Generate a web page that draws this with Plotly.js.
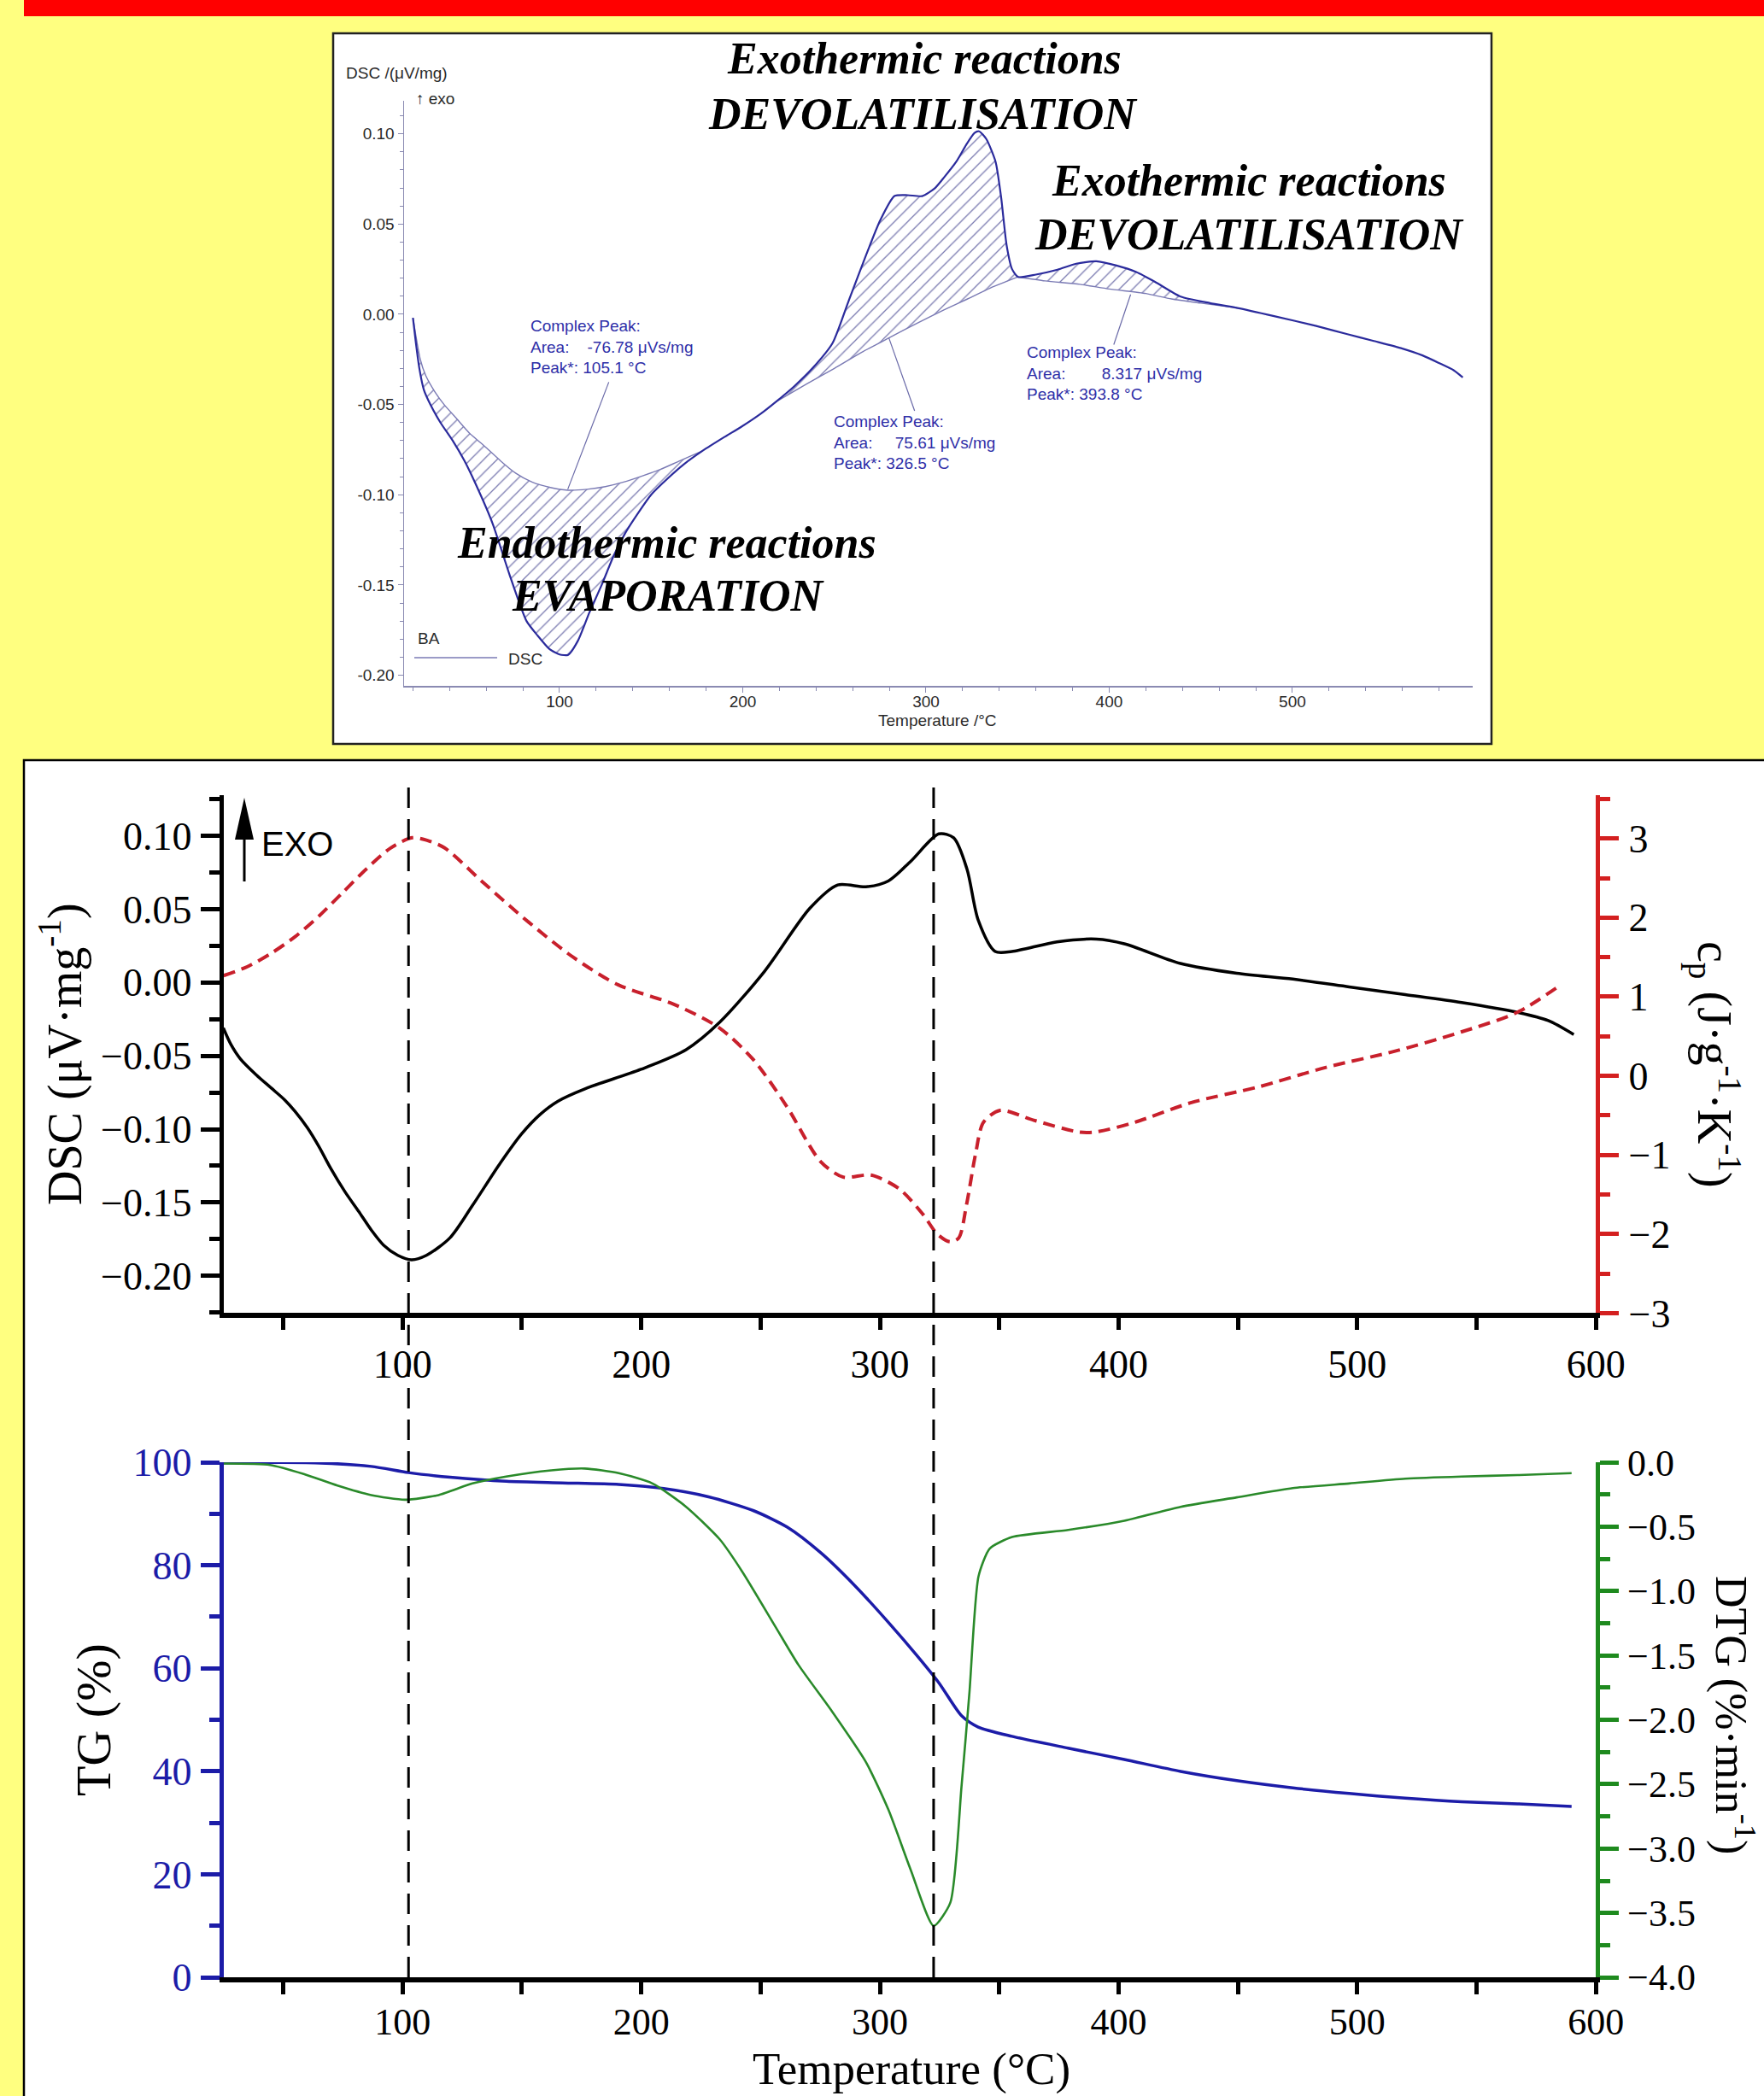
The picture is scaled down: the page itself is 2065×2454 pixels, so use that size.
<!DOCTYPE html>
<html><head><meta charset="utf-8">
<script src="https://cdn.plot.ly/plotly-3.0.1.min.js"></script>
<style>html,body{margin:0;padding:0;background:#FFFF80;}</style>
</head><body><div id="chart" style="width:2065px;height:2454px;"></div>
<script>
// ---------- Inset (NETZSCH DSC) data ----------
const insetDscT = [20,21.5,23.5,26,29.5,35,41.7,48,54.2,63.5,72.8,82,88,94.5,100,104.7,110,116.4,123,129.7,136,143,150,159,168,178,190,199,210,218,228,238,249,258,267.4,275,282.8,290,298,305,310,316.5,322,326.5,329,333,338,341,344,347,350.3,360,371.8,382,393,404,414.8,425,439,455,470,490,513,530,544,560,571,580,588,593];
const insetDscV = [-0.002,-0.015,-0.030,-0.042,-0.050,-0.060,-0.070,-0.081,-0.094,-0.116,-0.1445,-0.170,-0.178,-0.1855,-0.1885,-0.1887,-0.181,-0.165,-0.150,-0.1335,-0.121,-0.110,-0.100,-0.091,-0.083,-0.0757,-0.068,-0.0625,-0.055,-0.0486,-0.040,-0.030,-0.016,0.008,0.033,0.052,0.0655,0.066,0.0655,0.070,0.076,0.0845,0.094,0.1005,0.1014,0.097,0.0845,0.065,0.0384,0.025,0.0207,0.022,0.0247,0.028,0.0294,0.027,0.0234,0.018,0.0098,0.0062,0.0035,-0.001,-0.0065,-0.011,-0.0147,-0.019,-0.0228,-0.027,-0.031,-0.035];
const base1T = [20,24,27,32,37,44,51,59,68,76,85,95,104.7,115,125,135,145.7,155,165,178];
const base1V = [-0.002,-0.025,-0.034,-0.043,-0.050,-0.058,-0.066,-0.073,-0.0814,-0.088,-0.093,-0.096,-0.0975,-0.097,-0.0955,-0.093,-0.0894,-0.086,-0.0815,-0.0757];
const base2T = [218,235,250,265,280,295,310,322.7,335,350.3];
const base2V = [-0.0486,-0.0385,-0.030,-0.021,-0.013,-0.005,0.0025,0.0085,0.0145,0.0207];
const base3T = [350.3,365,384,400,420,434,450,470];
const base3V = [0.0207,0.0185,0.0166,0.014,0.0115,0.0085,0.0062,0.0035];
const insetYTicks = [-0.20,-0.15,-0.10,-0.05,0.00,0.05,0.10];
const insetYTickText = ['-0.20','-0.15','-0.10','-0.05','0.00','0.05','0.10'];

// ---------- Middle panel: DSC and cp ----------
const dscT = [24.9,28,32,38.7,45,50.6,55,60.1,65,70,76,81.6,87,92,98,103.8,110,119.9,129.3,141,150,157.6,165,176.4,199.9,218.8,232.9,251.7,270.6,282.3,294.1,303.5,312.9,324.7,330.9,336.5,341.2,348.3,355.3,374.2,390.7,402.4,425.9,449.5,473,496.6,520.1,543.7,567.2,580,590.7];
const dscV = [-0.031,-0.042,-0.052,-0.063,-0.072,-0.080,-0.088,-0.099,-0.112,-0.127,-0.143,-0.156,-0.169,-0.179,-0.186,-0.189,-0.186,-0.174,-0.152,-0.123,-0.103,-0.090,-0.081,-0.0725,-0.0592,-0.0458,-0.0271,0.0077,0.0505,0.0665,0.0652,0.0692,0.0826,0.1013,0.0986,0.0772,0.0424,0.0211,0.0211,0.0277,0.0296,0.0264,0.013,0.0063,0.0023,-0.003,-0.0083,-0.0137,-0.0204,-0.026,-0.0355];
const cpT = [25,35,45,55,65,75,85,95,104,110,117.5,134,152.8,171.6,190.4,213.9,232.8,246.9,261,275.1,284.6,296.3,308.1,318,324,329.3,333,336.3,340,343.4,350.4,364.5,383.4,390.4,406.9,430.5,458.7,487,515.2,543.5,567,584];
const cpV = [1.267,1.38,1.55,1.76,2.02,2.32,2.62,2.88,3.01,2.98,2.884,2.438,1.943,1.497,1.149,0.902,0.604,0.207,-0.388,-1.082,-1.28,-1.255,-1.429,-1.75,-2.0,-2.098,-2.05,-1.628,-1.0,-0.586,-0.437,-0.562,-0.71,-0.71,-0.586,-0.338,-0.139,0.108,0.307,0.554,0.802,1.124];

// ---------- Bottom panel: TG and DTG ----------
const tgT = [24.2,63.4,86.9,102.5,119.9,143.5,167,190.6,209.4,228.2,247.1,261.2,275.3,289.4,303.6,315.3,324.7,334.2,341.2,355.3,378.9,402.4,426,449.5,473,496.6,520.1,543.7,567.2,589.8];
const tgV = [99.9,99.9,99.2,98.0,97.1,96.3,96.0,95.7,94.9,93.3,90.6,87.4,82.4,76.1,68.9,62.6,57.2,50.8,48.6,46.8,44.5,42.3,40.0,38.2,36.8,35.7,34.8,34.1,33.7,33.2];
const dtgT = [24.2,44.5,58.6,72.7,86.9,101,115.1,129.3,143.4,162.3,176.4,190.6,204.7,218.8,232.9,242.4,256.5,265.9,280,294.2,303.6,313,322.5,329.5,334.2,337.5,341.3,346,355.4,378.9,402.4,426,449.5,473,496.6,520.1,543.7,567.2,589.8];
const dtgV = [-0.009,-0.02,-0.09,-0.18,-0.254,-0.29,-0.254,-0.164,-0.11,-0.062,-0.048,-0.084,-0.164,-0.345,-0.598,-0.851,-1.285,-1.574,-1.936,-2.33,-2.70,-3.17,-3.60,-3.42,-2.515,-1.79,-0.886,-0.67,-0.58,-0.525,-0.453,-0.345,-0.272,-0.20,-0.164,-0.127,-0.11,-0.099,-0.084];
const peakTemps = [102.5, 322.5];

// ---------- helpers ----------
const W = 2065, H = 2454;
const px = x => x / W;
const py = y => 1 - y / H;
function segment(T, V, a, b) {
  const x = [], y = [];
  T.forEach((t, i) => { if (t >= a - 1e-9 && t <= b + 1e-9) { x.push(t); y.push(V[i]); } });
  return {x, y};
}
function hatch(bT, bV) {
  const s = segment(insetDscT, insetDscV, bT[0], bT[bT.length - 1]);
  return {
    x: s.x.concat(bT.slice().reverse()), y: s.y.concat(bV.slice().reverse()),
    xaxis: 'x', yaxis: 'y', type: 'scatter', mode: 'lines', fill: 'toself',
    fillcolor: 'rgba(0,0,0,0)', line: {width: 0},
    fillpattern: {shape: '/', fgcolor: '#7a7ab0', bgcolor: 'rgba(255,255,255,0)', size: 11, solidity: 0.12},
    hoverinfo: 'skip'
  };
}
function baseTrace(bT, bV) {
  return {x: bT, y: bV, xaxis: 'x', yaxis: 'y', type: 'scatter', mode: 'lines',
    line: {color: '#7a7ab4', width: 1.4, shape: 'spline', smoothing: 0.6}, hoverinfo: 'skip'};
}

const traces = [
  hatch(base1T, base1V), hatch(base2T, base2V), hatch(base3T, base3V),
  baseTrace(base1T, base1V), baseTrace(base2T, base2V), baseTrace(base3T, base3V),
  {x: insetDscT, y: insetDscV, xaxis: 'x', yaxis: 'y', type: 'scatter', mode: 'lines',
   line: {color: '#2b2b9c', width: 2.2, shape: 'spline', smoothing: 0.6}, hoverinfo: 'skip'},
  {x: dscT, y: dscV, xaxis: 'x2', yaxis: 'y2', type: 'scatter', mode: 'lines',
   line: {color: '#000000', width: 3.5, shape: 'spline', smoothing: 0.8}, hoverinfo: 'skip'},
  {x: cpT, y: cpV, xaxis: 'x2', yaxis: 'y3', type: 'scatter', mode: 'lines',
   line: {color: '#C8202C', width: 4, dash: '14px,8px', shape: 'spline', smoothing: 0.8}, hoverinfo: 'skip'},
  {x: tgT, y: tgV, xaxis: 'x3', yaxis: 'y4', type: 'scatter', mode: 'lines',
   line: {color: '#1c1ca8', width: 3.5, shape: 'spline', smoothing: 0.7}, hoverinfo: 'skip'},
  {x: dtgT, y: dtgV, xaxis: 'x3', yaxis: 'y5', type: 'scatter', mode: 'lines',
   line: {color: '#2a8a2a', width: 2.6, shape: 'spline', smoothing: 0.6}, hoverinfo: 'skip'}
];

const serif = 'Liberation Serif, Times New Roman, serif';
const sans = 'Liberation Sans, Arial, sans-serif';
const insetGrey = '#8a8ab2';
const commonAx = {showgrid: false, zeroline: false, showline: true, fixedrange: true};
const bigTick = {family: serif, size: 46, color: '#000'};

const layout = {
  width: W, height: H, margin: {l: 0, r: 0, t: 0, b: 0},
  paper_bgcolor: '#FFFF80', plot_bgcolor: 'rgba(0,0,0,0)', showlegend: false,
  xaxis: Object.assign({}, commonAx, {domain: [px(473), px(1724)], range: [15.15, 598.4], anchor: 'y',
    linecolor: insetGrey, linewidth: 1.5, ticks: 'outside', ticklen: 6, tickwidth: 1, tickcolor: insetGrey,
    tick0: 0, dtick: 100, tickfont: {family: sans, size: 19, color: '#2a2a2a'}, ticklabelstandoff: -5,
    minor: {tick0: 0, dtick: 20, ticks: 'outside', ticklen: 4, tickwidth: 1, tickcolor: insetGrey}}),
  yaxis: Object.assign({}, commonAx, {domain: [py(803), py(118)], range: [-0.2059, 0.1183], anchor: 'x',
    linecolor: insetGrey, linewidth: 1.5, ticks: 'outside', ticklen: 6, tickwidth: 1, tickcolor: insetGrey,
    tickvals: insetYTicks, ticktext: insetYTickText, tickfont: {family: sans, size: 19, color: '#2a2a2a'},
    minor: {tick0: 0, dtick: 0.01, ticks: 'outside', ticklen: 4, tickwidth: 1, tickcolor: insetGrey}}),
  xaxis2: Object.assign({}, commonAx, {domain: [px(261.7), px(1868.3)], range: [25, 600.01], anchor: 'y2',
    linecolor: '#000', linewidth: 6, ticks: 'outside', ticklen: 14, tickwidth: 5, tickcolor: '#000',
    tick0: 0, dtick: 100, tickfont: bigTick, ticklabelstandoff: 0,
    minor: {tick0: 0, dtick: 50, ticks: 'outside', ticklen: 14, tickwidth: 5, tickcolor: '#000'}}),
  yaxis2: Object.assign({}, commonAx, {domain: [py(1537.4), py(931.3)], range: [-0.2254, 0.1275], anchor: 'x2',
    linecolor: '#000', linewidth: 5, ticks: 'outside', ticklen: 22, tickwidth: 5, tickcolor: '#000',
    tick0: 0, dtick: 0.05, tickformat: '.2f', tickfont: bigTick, ticklabelstandoff: 1,
    minor: {tick0: 0, dtick: 0.025, ticks: 'outside', ticklen: 12, tickwidth: 5, tickcolor: '#000'}}),
  yaxis3: Object.assign({}, commonAx, {overlaying: 'y2', side: 'right', anchor: 'x2', range: [-3, 3.545],
    linecolor: '#D42020', linewidth: 5, ticks: 'outside', ticklen: 22, tickwidth: 5, tickcolor: '#D42020',
    tick0: 0, dtick: 1, tickformat: 'd', tickfont: bigTick, ticklabelstandoff: 2,
    minor: {tick0: 0, dtick: 0.5, ticks: 'outside', ticklen: 12, tickwidth: 5, tickcolor: '#D42020'}}),
  xaxis3: Object.assign({}, commonAx, {domain: [px(261.7), px(1868.3)], range: [25, 600.01], anchor: 'y4',
    linecolor: '#000', linewidth: 6, ticks: 'outside', ticklen: 14, tickwidth: 5, tickcolor: '#000',
    tick0: 0, dtick: 100, tickfont: {family: serif, size: 44, color: '#000'}, ticklabelstandoff: -6,
    minor: {tick0: 0, dtick: 50, ticks: 'outside', ticklen: 14, tickwidth: 5, tickcolor: '#000'}}),
  yaxis4: Object.assign({}, commonAx, {domain: [py(2315.2), py(1712)], range: [-0.01, 100.01], anchor: 'x3',
    linecolor: '#1c1ca8', linewidth: 5, ticks: 'outside', ticklen: 22, tickwidth: 5, tickcolor: '#1c1ca8',
    tick0: 0, dtick: 20, tickfont: {family: serif, size: 46, color: '#1c1ca8'}, ticklabelstandoff: 1,
    minor: {tick0: 0, dtick: 10, ticks: 'outside', ticklen: 12, tickwidth: 5, tickcolor: '#1c1ca8'}}),
  yaxis5: Object.assign({}, commonAx, {overlaying: 'y4', side: 'right', anchor: 'x3', range: [-4.001, 0.001],
    linecolor: '#1e8a1e', linewidth: 5, ticks: 'outside', ticklen: 22, tickwidth: 5, tickcolor: '#1e8a1e',
    tick0: 0, dtick: 0.5, tickformat: '.1f', tickfont: {family: serif, size: 44, color: '#000'}, ticklabelstandoff: 1,
    minor: {tick0: 0, dtick: 0.25, ticks: 'outside', ticklen: 12, tickwidth: 5, tickcolor: '#1e8a1e'}}),
  shapes: [],
  annotations: []
};

// background panels
layout.shapes.push(
  {type: 'rect', xref: 'paper', yref: 'paper', x0: px(28), x1: 1.01, y0: py(19), y1: 1.01, fillcolor: '#FF0000', line: {width: 0}, layer: 'below'},
  {type: 'rect', xref: 'paper', yref: 'paper', x0: px(390), x1: px(1746), y0: py(871), y1: py(39), fillcolor: '#FFFFFF', line: {color: '#222', width: 2.5}, layer: 'below'},
  {type: 'rect', xref: 'paper', yref: 'paper', x0: px(28), x1: 1.01, y0: -0.01, y1: py(890), fillcolor: '#FFFFFF', line: {color: '#000', width: 2.5}, layer: 'below'}
);
// dashed reference lines at the peak temperatures
peakTemps.forEach(t => layout.shapes.push({type: 'line', xref: 'x2', yref: 'paper', x0: t, x1: t,
  y0: py(2315), y1: py(912), line: {color: '#000', width: 3, dash: '24px,13px'}}));
// EXO arrow
layout.shapes.push(
  {type: 'line', xref: 'paper', yref: 'paper', x0: px(286), x1: px(286), y0: py(1032), y1: py(975), line: {color: '#000', width: 3}},
  {type: 'path', xref: 'paper', yref: 'paper', path: `M ${px(275)},${py(983)} L ${px(297)},${py(983)} L ${px(286)},${py(934)} Z`, fillcolor: '#000', line: {width: 0}}
);
// inset leader lines and legend line
layout.shapes.push(
  {type: 'line', xref: 'x', yref: 'y', x0: 126.9, y0: -0.0376, x1: 104.5, y1: -0.0970, line: {color: '#6a6aa8', width: 1.2}},
  {type: 'line', xref: 'x', yref: 'y', x0: 293.8, y0: -0.0535, x1: 279.8, y1: -0.0132, line: {color: '#6a6aa8', width: 1.2}},
  {type: 'line', xref: 'x', yref: 'y', x0: 402.5, y0: -0.0168, x1: 411.7, y1: 0.0110, line: {color: '#6a6aa8', width: 1.2}},
  {type: 'line', xref: 'paper', yref: 'paper', x0: px(485), x1: px(582), y0: py(770), y1: py(770), line: {color: '#7a7ab4', width: 1.5}}
);

function ann(text, x, y, opts) {
  layout.annotations.push(Object.assign({text, x: px(x), y: py(y), xref: 'paper', yref: 'paper',
    showarrow: false, xanchor: 'center', yanchor: 'middle'}, opts));
}
const blue = {family: sans, size: 19, color: '#2f2fa8'};
const dark = {family: sans, size: 19, color: '#2a2a2a'};
const big = {family: serif, size: 52, color: '#000'};
const nb = '\u00a0';
// inset texts
ann('DSC /(μV/mg)', 403, 85, {xanchor: 'left', font: dark});
ann('↑ exo', 485, 115, {xanchor: 'left', font: dark});
ann('Temperature /°C', 1097, 844, {font: dark});
ann('BA', 487, 747, {xanchor: 'left', font: dark});
ann('DSC', 593, 771, {xanchor: 'left', font: dark});
ann('Complex Peak:<br>Area:' + nb.repeat(4) + '-76.78 μVs/mg<br>Peak*:' + nb + '105.1 °C', 619, 406, {xanchor: 'left', align: 'left', font: blue});
ann('Complex Peak:<br>Area:' + nb.repeat(5) + '75.61 μVs/mg<br>Peak*:' + nb + '326.5 °C', 974, 518, {xanchor: 'left', align: 'left', font: blue});
ann('Complex Peak:<br>Area:' + nb.repeat(8) + '8.317 μVs/mg<br>Peak*:' + nb + '393.8 °C', 1200, 437, {xanchor: 'left', align: 'left', font: blue});
// big italic labels
ann('<b><i>Exothermic reactions</i></b>', 1082, 69, {font: big});
ann('<b><i>DEVOLATILISATION</i></b>', 1080, 133, {font: big});
ann('<b><i>Exothermic reactions</i></b>', 1462, 212, {font: big});
ann('<b><i>DEVOLATILISATION</i></b>', 1462, 274, {font: big});
ann('<b><i>Endothermic reactions</i></b>', 780, 635, {font: big});
ann('<b><i>EVAPORATION</i></b>', 782, 698, {font: big});
// main figure texts
ann('EXO', 348, 988, {font: {family: sans, size: 40, color: '#000'}});
ann('DSC (μV·mg<sup>-1</sup>)', 72, 1234, {textangle: -90, font: {family: serif, size: 56, color: '#000'}});
ann('c<sub>p</sub> (J·g<sup>-1</sup>·K<sup>-1</sup>)', 2007, 1246, {textangle: 90, font: {family: serif, size: 56, color: '#000'}});
ann('TG (%)', 110, 2014, {textangle: -90, font: {family: serif, size: 58, color: '#000'}});
ann('DTG (%·min<sup>-1</sup>)', 2030, 2008, {textangle: 90, font: {family: serif, size: 52, color: '#000'}});
ann('Temperature (°C)', 1067, 2454, {yanchor: 'bottom', font: {family: serif, size: 53, color: '#000'}});

Plotly.newPlot('chart', traces, layout, {staticPlot: true, displayModeBar: false});
</script></body></html>
